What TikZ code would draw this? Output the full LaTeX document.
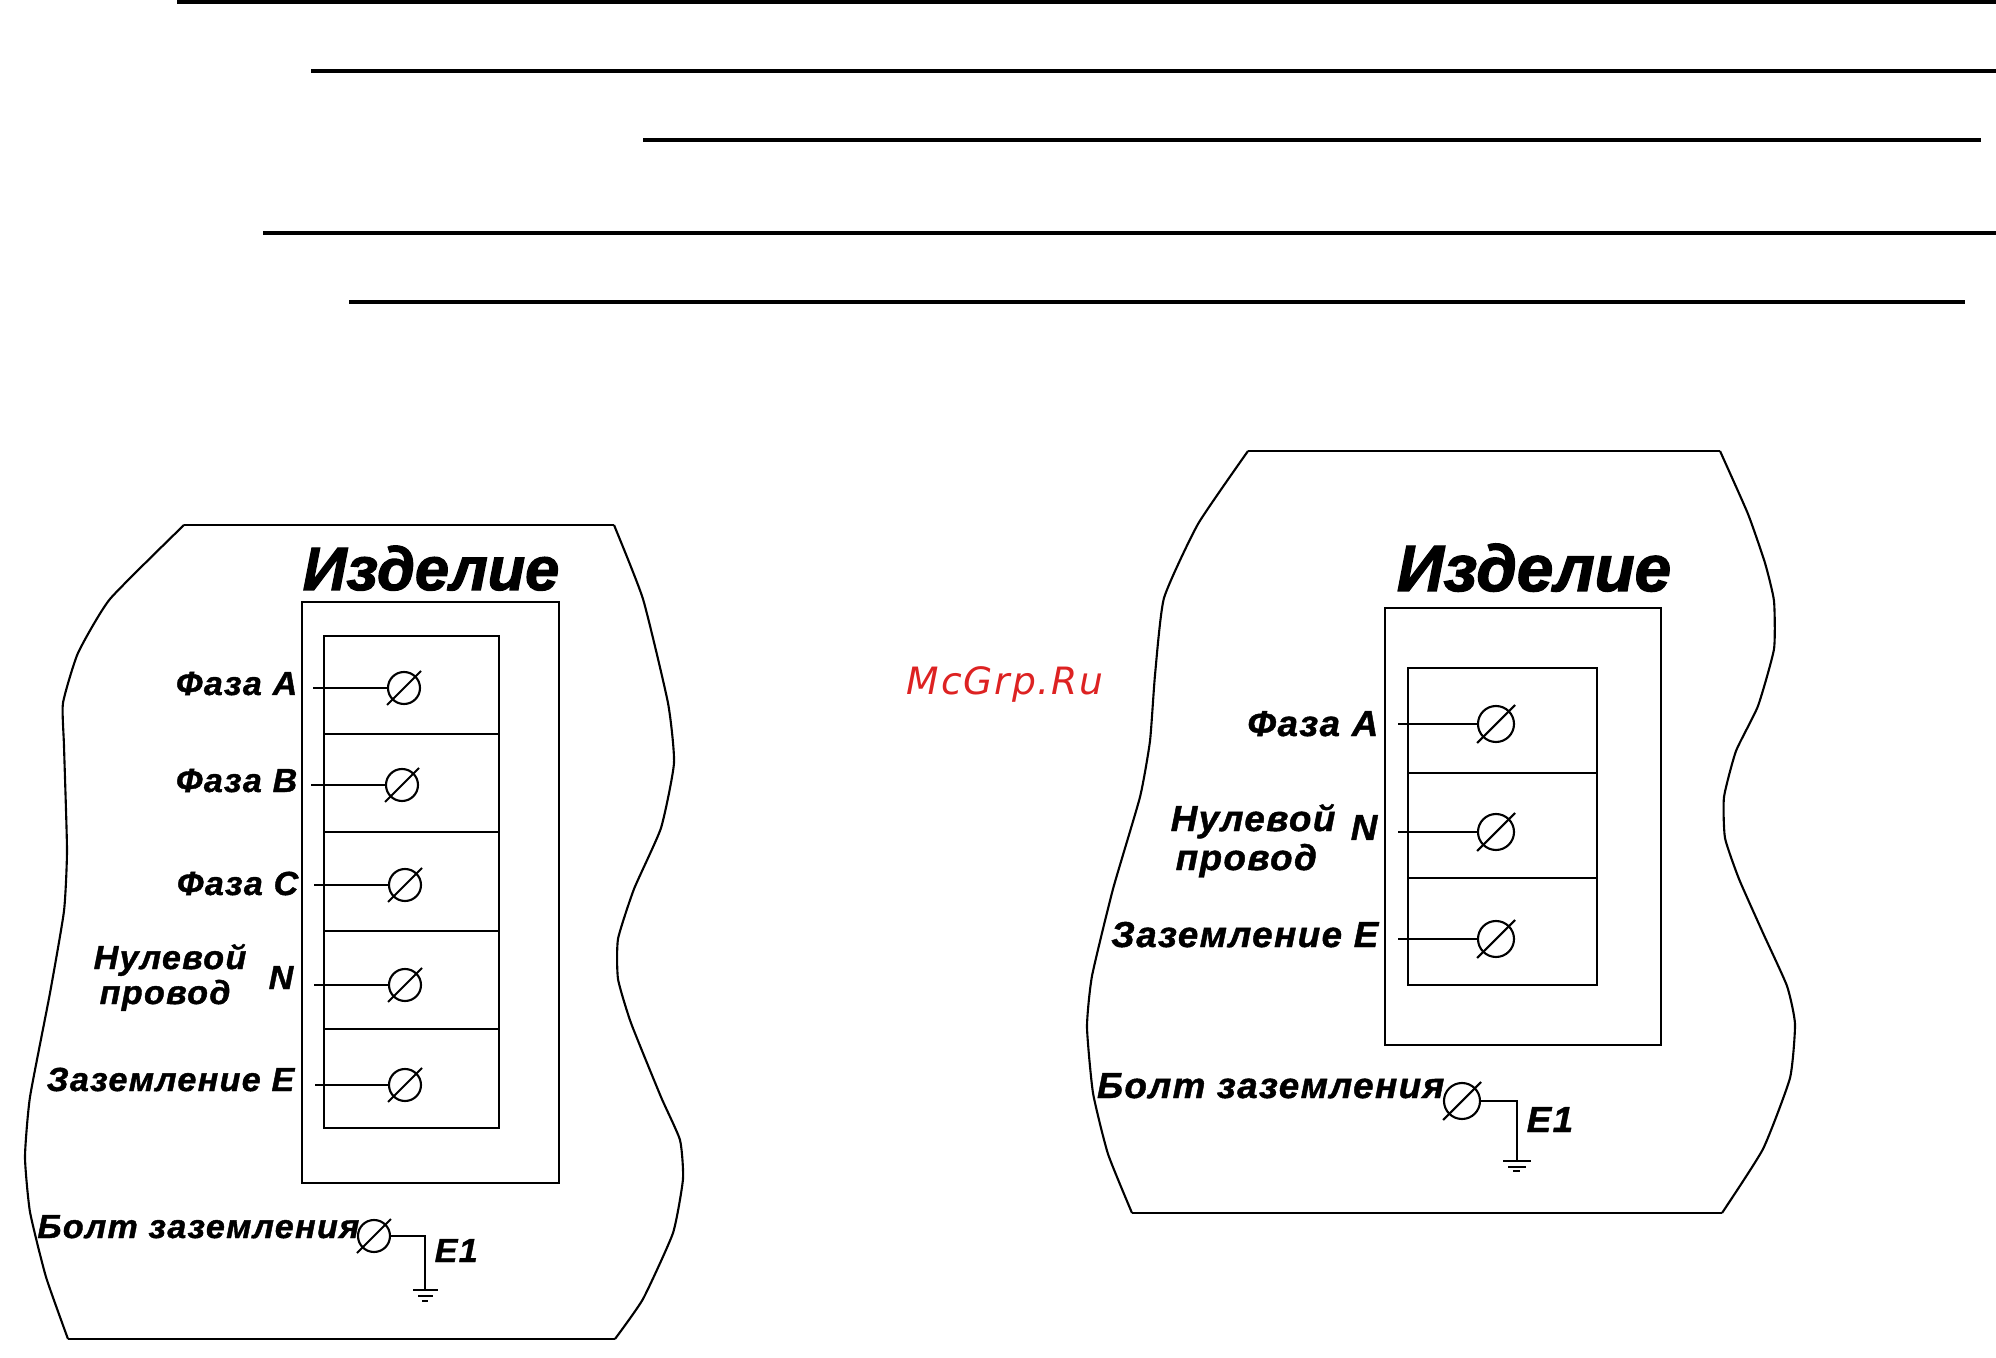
\documentclass[tikz,border=0pt]{standalone}
\usepackage{fontspec}
\setmainfont[LetterSpace=4,FakeStretch=1.02,BoldItalicFeatures={FakeBold=1.2}]{Liberation Sans}
\newfontfamily\titlefont[BoldItalicFeatures={FakeBold=2}]{Liberation Sans}
\newfontfamily\markfont[LetterSpace=5]{DejaVu Sans}
\usetikzlibrary{calc}
\tikzset{
    wire/.style={line width=0.6pt},
    rule/.style={line width=1.15pt},
    terminal/.style={circle,draw,line width=0.6pt,inner sep=0pt,minimum size=#1},
    labelL/.style={inner sep=0pt,font=\bfseries\itshape\fontsize{9.5}{11}\selectfont},
    labelR/.style={inner sep=0pt,font=\bfseries\itshape\fontsize{10.25}{12}\selectfont},
}
\begin{document}
\begin{tikzpicture}[x=0.01cm,y=-0.01cm]
    \useasboundingbox (0,0) rectangle (1996,1358);

    % rules at the top
    \draw[rule] (177,2) -- (1996,2);
    \draw[rule] (311,71) -- (1996,71);
    \draw[rule] (643,140) -- (1981,140);
    \draw[rule] (263,233) -- (1996,233);
    \draw[rule] (349,302) -- (1965,302);

    % left product
    \draw[wire] (184,525) -- (614,525);
    \draw[wire] plot[smooth,tension=0.3] coordinates {(614,525) (643,599) (668,703) (674,763) (661,828) (634,889) (618,939) (618,979) (631,1023) (661,1097) (680,1140) (683,1179) (673,1233) (643,1299) (615,1339)};
    \draw[wire] (615,1339) -- (68,1339);
    \draw[wire] plot[smooth,tension=0.3] coordinates {(68,1339) (46,1277) (30,1212) (25,1157) (30,1097) (50,993) (64,911) (67,850) (64,746) (63,703) (78,653) (110,599) (184,525)};

    \draw[wire] (302,602) rectangle (559,1183);
    \draw[wire] (324,636) rectangle (499,1128);
    \foreach \y in {734,832,931,1029}
        \draw[wire] (324,\y) -- (499,\y);

    \foreach \name/\x/\y/\start in {lA/404/688/313,lB/402/785/311,lC/405/885/314,lN/405/985/314,lE/405/1085/315} {
        \node[terminal=32*0.2845pt] (\name) at (\x,\y) {};
        \coordinate (\name lead) at (\start,\y);
        \draw[wire] (\name lead) -- (\name);
        \draw[wire] ($(\name)+(-17,17)$) -- ($(\name)+(17,-17)$);
    }

    \node[inner sep=0pt,anchor=base,font=\titlefont\bfseries\itshape\fontsize{17.4}{20}\selectfont] (titleL) at (431,590) {Изделие};
    \node[labelL,anchor=base east] (faseAL) at (298,695) {Фаза A};
    \node[labelL,anchor=base east] (faseBL) at (298,792) {Фаза B};
    \node[labelL,anchor=base east] (faseCL) at (299,895) {Фаза C};
    \node[labelL,anchor=base west] (zeroaL) at (93,969) {Нулевой};
    \node[labelL,anchor=base west] (zerobL) at (99,1004) {провод};
    \node[labelL,anchor=base east] (zerocL) at (294,989) {N};
    \node[labelL,anchor=base east] (earthL) at (295,1091) {Заземление E};
    \node[labelL,anchor=base east] (boltnameL) at (360,1238) {Болт заземления};
    \node[labelL,anchor=base west] (eoneL) at (434,1262) {E1};

    \node[terminal=32*0.2845pt] (boltL) at (374,1236) {};
    \draw[wire] ($(boltL)+(-17,17)$) -- ($(boltL)+(17,-17)$);
    \coordinate (gndL) at (425,1290);
    \draw[wire] (boltL) -- (425,1236) -- (gndL);
    \draw[wire] (413,1290) -- (438,1290);
    \draw[wire] (418,1296) -- (433,1296);
    \draw[wire] (422,1301) -- (428,1301);

    % right product
    \draw[wire] (1248,451) -- (1720,451);
    \draw[wire] plot[smooth,tension=0.3] coordinates {(1720,451) (1748,514) (1765,563) (1774,601) (1774,649) (1758,706) (1736,751) (1724,797) (1725,838) (1739,879) (1763,933) (1787,986) (1795,1024) (1790,1078) (1763,1149) (1722,1213)};
    \draw[wire] (1722,1213) -- (1132,1213);
    \draw[wire] plot[smooth,tension=0.3] coordinates {(1132,1213) (1108,1154) (1093,1093) (1087,1027) (1092,976) (1113,889) (1140,797) (1150,741) (1155,675) (1164,598) (1198,524) (1248,451)};

    \draw[wire] (1385,608) rectangle (1661,1045);
    \draw[wire] (1408,668) rectangle (1597,985);
    \foreach \y in {773,878}
        \draw[wire] (1408,\y) -- (1597,\y);

    \foreach \name/\y in {rA/724,rN/832,rE/939} {
        \node[terminal=36*0.2845pt] (\name) at (1496,\y) {};
        \coordinate (\name lead) at (1398,\y);
        \draw[wire] (\name lead) -- (\name);
        \draw[wire] ($(\name)+(-19,19)$) -- ($(\name)+(19,-19)$);
    }

    \node[inner sep=0pt,anchor=base,font=\titlefont\bfseries\itshape\fontsize{18.6}{21}\selectfont] (titleR) at (1534,591) {Изделие};
    \node[labelR,anchor=base east] (faseAR) at (1379,736) {Фаза A};
    \node[labelR,anchor=base west] (zeroaR) at (1170,831) {Нулевой};
    \node[labelR,anchor=base west] (zerobR) at (1175,870) {провод};
    \node[labelR,anchor=base east] (zerocR) at (1378,840) {N};
    \node[labelR,anchor=base east] (earthR) at (1379,947) {Заземление E};
    \node[labelR,anchor=base east] (boltnameR) at (1445,1098) {Болт заземления};
    \node[labelR,anchor=base west] (eoneR) at (1526,1132) {E1};

    \node[terminal=36*0.2845pt] (boltR) at (1462,1101) {};
    \draw[wire] ($(boltR)+(-19,19)$) -- ($(boltR)+(19,-19)$);
    \coordinate (gndR) at (1517,1161);
    \draw[wire] (boltR) -- (1517,1101) -- (gndR);
    \draw[wire] (1503,1161) -- (1531,1161);
    \draw[wire] (1508,1167) -- (1526,1167);
    \draw[wire] (1513,1171) -- (1520,1171);

    \node[inner sep=0pt,anchor=base west,text={rgb,255:red,221;green,34;blue,34},font=\markfont\itshape\fontsize{10.7}{12}\selectfont] (mark) at (906,695) {McGrp.Ru};
\end{tikzpicture}
\end{document}
